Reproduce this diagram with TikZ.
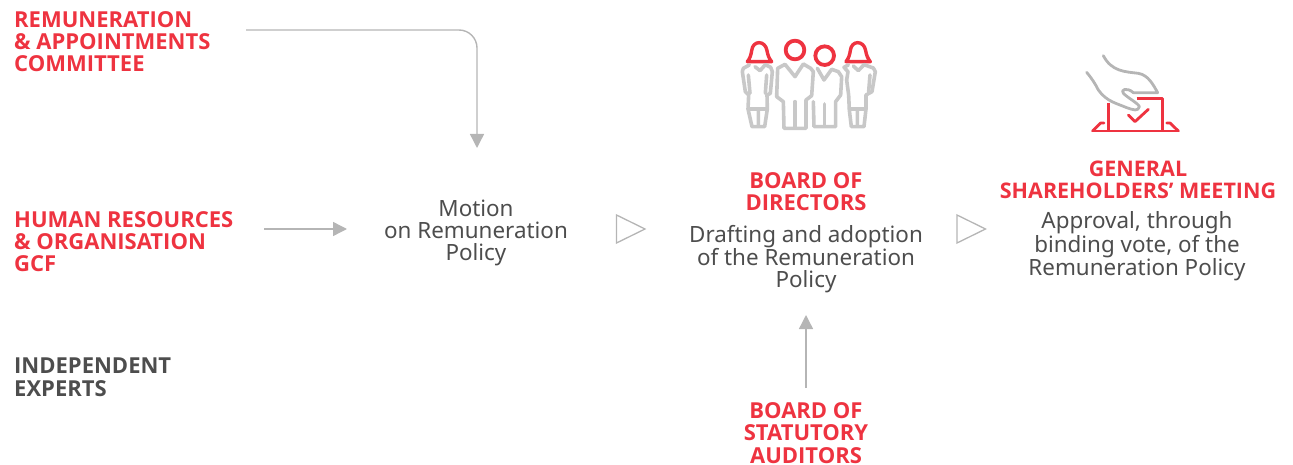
\documentclass[tikz,border=0pt]{standalone}
\usepackage{fontspec}
\setmainfont{Noto Sans}
\newfontfamily\capsf{Open Sans}
\usetikzlibrary{arrows.meta}
\definecolor{cred}{HTML}{EE3340}
\definecolor{cdark}{HTML}{4D4D4D}
\definecolor{cgray}{HTML}{B5B5B5}
\definecolor{cicon}{HTML}{C8C8C8}
\tikzset{
  redlabel/.style={text=cred,font=\capsf\fontsize{22}{22.2}\selectfont\bfseries,align=center,inner sep=0pt},
  leftlabel/.style={redlabel,align=left,anchor=north west},
  bodytext/.style={text=cdark,font=\fontsize{22.4}{22.2}\selectfont,align=center,inner sep=0pt},
  conn/.style={draw=cgray,line width=1.4pt,-{Triangle[length=14pt,width=14pt,fill=cgray]}},
  chevron/.style={draw=cgray,line width=1.3pt,line join=miter},
  iconred/.style={draw=cred,line width=3.4pt,line join=round,line cap=round},
  icongray/.style={draw=cicon,line width=3.6pt,line join=round,line cap=round},
  handgray/.style={draw=cgray,line width=2.8pt,line join=round,line cap=round},
}
\begin{document}
\begin{tikzpicture}[x=1pt,y=-1pt]
\useasboundingbox (0,0) rectangle (1293,465);
\node[leftlabel] (rac) at (14,11) {REMUNERATION\\\& APPOINTMENTS\\COMMITTEE};
\node[leftlabel] (hr) at (14,211) {HUMAN RESOURCES\\\& ORGANISATION\\GCF};
\node[leftlabel,text=cdark] (exp) at (14,358) {INDEPENDENT\\EXPERTS};
\node[bodytext] (motion) at (476,233) {Motion\\on Remuneration\\Policy};
\node[bodytext] (draft) at (806,259) {Drafting and adoption\\of the Remuneration\\Policy};
\node[redlabel] (bod) at (806,192) {BOARD OF\\DIRECTORS};
\node[redlabel,font=\capsf\fontsize{21.5}{22}\selectfont\bfseries] (gsm) at (1138,180) {GENERAL\\SHAREHOLDERS’ MEETING};
\node[bodytext,font=\fontsize{22.4}{21.8}\selectfont] (appr) at (1137,246.5) {Approval, through\\binding vote, of the\\Remuneration Policy};
\node[redlabel] (bsa) at (806,433) {BOARD OF\\STATUTORY\\AUDITORS};
\coordinate (a1s) at (246,30);
\coordinate (a1e) at (477,148);
\coordinate (a2s) at (264,229);
\coordinate (a2e) at (347,229);
\coordinate (a3s) at (806,388);
\coordinate (a3e) at (806,315);
\draw[conn,rounded corners=18pt] (a1s) -| (a1e);
\draw[conn] (a2s) -- (a2e);
\draw[conn] (a3s) -- (a3e);
\draw[chevron] (616.5,215) -- (645,229) -- (616.5,243) -- cycle;
\draw[chevron] (957,215) -- (985.5,229) -- (957,243) -- cycle;
% board icon
\begin{scope}[shift={(720,30)},x=0.3333pt,y=-0.3333pt]
 \draw[iconred] (82,95) -- (155,95) .. controls (147,85) and (143,75) .. (141,62) .. controls (136,30) and (98,30) .. (95,62) .. controls (93,75) and (90,85) .. (82,95) -- cycle;
 \draw[iconred] (378,95) -- (451,95) .. controls (443,85) and (439,75) .. (437,62) .. controls (432,30) and (394,30) .. (391,62) .. controls (389,75) and (386,85) .. (378,95) -- cycle;
 \draw[iconred,line width=3.8pt] (225,60) circle (28);
 \draw[iconred,line width=3.8pt] (314,77) circle (28);
 % woman 1
 \draw[icongray] (88,105) -- (70,115) -- (67,125) -- (76,185) -- (86,195) -- (84,237) -- (96,290) -- (134,290) -- (142,237) -- (141,195) -- (151,190) -- (157,125) -- (152,112) -- (136,104) -- (120,122) -- (105,110);
 \draw[icongray] (85,237) -- (140,237) (115,240) -- (115,288) (85,135) -- (90,190) (140,135) -- (136,190);
 % man
 \draw[icongray] (195,103) -- (173,115) -- (170,200) -- (190,215) -- (192,295) -- (258,295) -- (258,210) -- (275,197) -- (280,125) -- (272,115) -- (250,102) -- (225,140) -- cycle;
 \draw[icongray] (225,215) -- (225,293);
 % woman 2
 \draw[icongray] (292,115) -- (312,150) -- (335,118) -- (355,125) -- (365,140) -- (362,195) -- (347,215) -- (347,290) -- (282,290) -- (280,215);
 \draw[icongray] (314,222) -- (314,288);
 % woman 3
 \draw[icongray] (385,105) -- (372,112) -- (384,125) -- (380,150) -- (386,195) -- (388,240) -- (394,290) -- (432,290) -- (438,237) -- (438,195) -- (456,185) -- (466,125) -- (460,114) -- (432,104) -- (415,122) -- (400,108);
 \draw[icongray] (388,237) -- (438,237) (412,240) -- (412,288) (450,135) -- (446,185);
\end{scope}
% ballot icon
\begin{scope}[shift={(1070,40)},x=0.3333pt,y=-0.3333pt]
 \draw[iconred,line width=2.8pt,line cap=butt] (115,188) -- (115,270) (200,175) -- (277,175) -- (277,270);
 \draw[iconred,line width=2.8pt] (68,273) -- (325,273);
 \draw[iconred,line width=2.8pt] (68,273) -- (92,249) -- (102,249) (325,273) -- (300,249) -- (290,249);
 \draw[iconred,line width=2.8pt] (175,225) -- (195,245) -- (235,208);
 \draw[handgray] (100,47) .. controls (125,95) and (165,95) .. (205,100) .. controls (235,105) and (250,135) .. (263,158) -- (190,158) .. controls (170,140) and (150,150) .. (160,160) .. controls (175,175) and (205,190) .. (208,200) .. controls (205,215) and (190,210) .. (170,203) .. controls (140,190) and (110,185) .. (85,150) .. controls (75,130) and (65,115) .. (50,97);
\end{scope}
\end{tikzpicture}
\end{document}
